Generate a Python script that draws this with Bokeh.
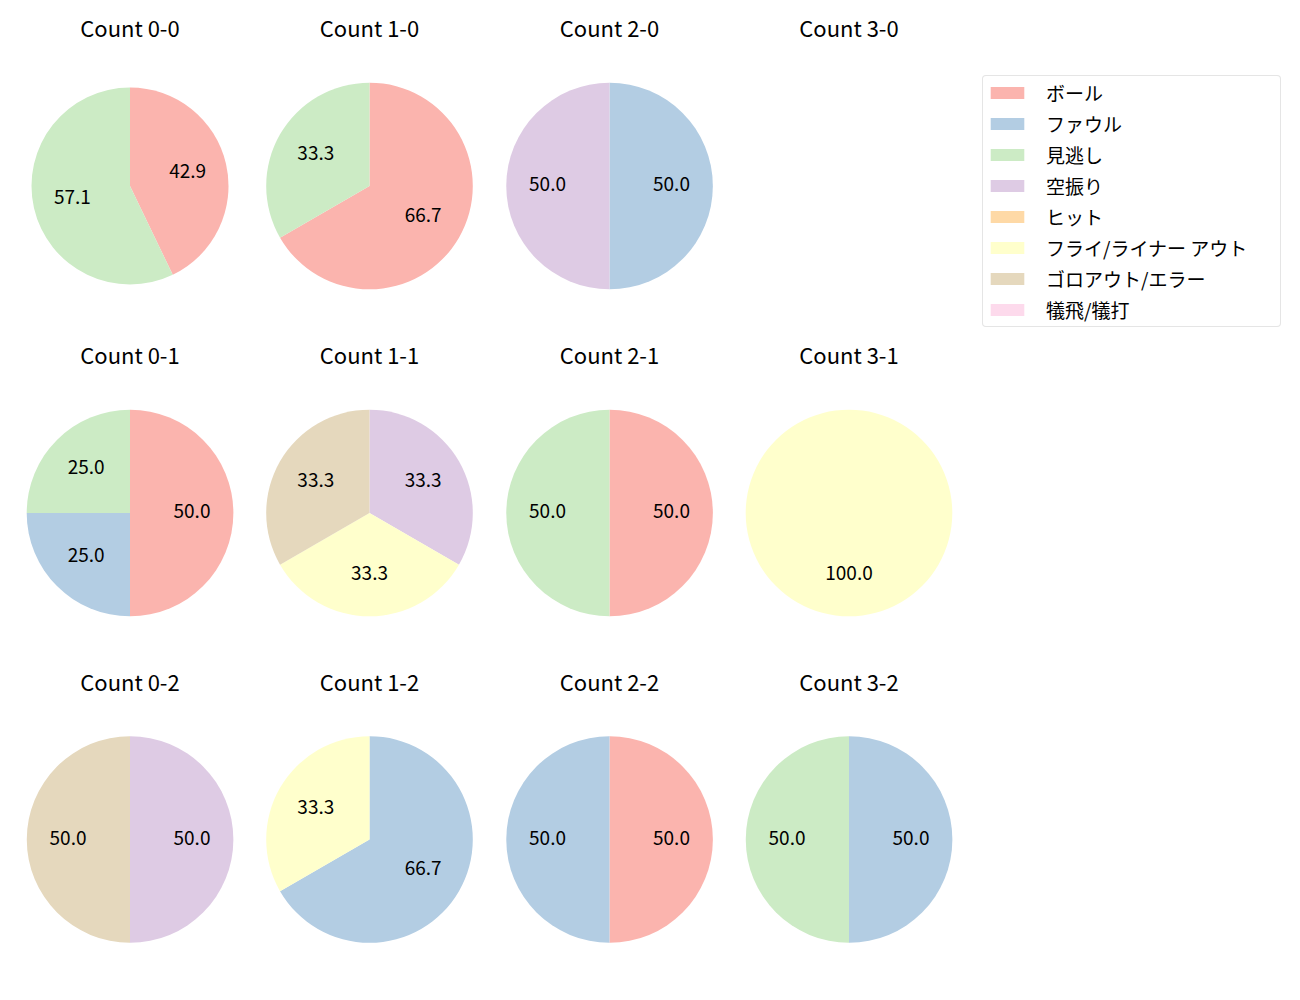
import math
from bokeh.plotting import figure
from bokeh.models import Range1d, Legend, LegendItem, ColumnDataSource
from bokeh.core.properties import value
from bokeh.embed import file_html
from bokeh.resources import INLINE

# ---- data ----
count_names = ["0-0", "1-0", "2-0", "3-0",
               "0-1", "1-1", "2-1", "3-1",
               "0-2", "1-2", "2-2", "3-2"]
categories = ["ボール", "ファウル", "見逃し", "空振り", "ヒット",
              "フライ/ライナー アウト", "ゴロアウト/エラー", "犠飛/犠打"]
ball     = [3, 2, 0, 0, 2, 0, 1, 0, 0, 0, 1, 0]
foul     = [0, 0, 1, 0, 1, 0, 0, 0, 0, 2, 1, 1]
called   = [4, 1, 0, 0, 1, 0, 1, 0, 0, 0, 0, 1]
swinging = [0, 0, 1, 0, 0, 1, 0, 0, 1, 0, 0, 0]
hit      = [0, 0, 0, 0, 0, 0, 0, 0, 0, 0, 0, 0]
fly      = [0, 0, 0, 0, 0, 1, 0, 1, 0, 1, 0, 0]
grounder = [0, 0, 0, 0, 0, 1, 0, 0, 1, 0, 0, 0]
sac      = [0, 0, 0, 0, 0, 0, 0, 0, 0, 0, 0, 0]
series = [ball, foul, called, swinging, hit, fly, grounder, sac]
colors = ["#fbb4ae", "#b3cde3", "#ccebc5", "#decbe4", "#fed9a6",
          "#ffffcc", "#e5d8bd", "#fddaec"]

# ---- layout (pixels, top-down) ----
W, H = 1300, 1000
col_x = [129.5, 369, 609, 848.5]
row_y = [185.5, 512.5, 839]
R = 103.3
radii = [98.5] + [R] * 11
FONT = "Noto Sans CJK JP"
NAN = float("nan")

p = figure(width=W, height=H, x_range=Range1d(0, W), y_range=Range1d(0, H),
           output_backend="svg", toolbar_location=None, min_border=0)
p.axis.visible = False
p.grid.visible = False
p.outline_line_color = None
p.background_fill_color = "white"
p.border_fill_color = "white"

wedge_data = {k: dict(x=[], y=[], r=[], s=[], e=[]) for k in range(len(categories))}
lab = dict(x=[], y=[], t=[])
tit = dict(x=[], y=[], t=[])

for i, name in enumerate(count_names):
    cx = col_x[i % 4]
    cy = H - row_y[i // 4]
    r = radii[i]
    tit["x"].append(cx)
    tit["y"].append(H - (row_y[i // 4] - 157))
    tit["t"].append("Count " + name)
    vals = [s[i] for s in series]
    total = sum(vals)
    if total == 0:
        continue
    cum = 0.0
    for k, v in enumerate(vals):
        if v == 0:
            continue
        f0 = cum / total
        f1 = (cum + v) / total
        cum += v
        start = math.pi / 2 - 2 * math.pi * f1
        end = math.pi / 2 - 2 * math.pi * f0
        if f1 - f0 >= 0.9999:
            end -= 1e-5
        d = wedge_data[k]
        d["x"].append(cx); d["y"].append(cy); d["r"].append(r)
        d["s"].append(start); d["e"].append(end)
        mid = math.pi / 2 - 2 * math.pi * (f0 + f1) / 2
        lab["x"].append(cx + 0.6 * r * math.cos(mid))
        lab["y"].append(cy + 0.6 * r * math.sin(mid))
        lab["t"].append("%.1f" % (100.0 * v / total))

items = []
for k, cat in enumerate(categories):
    d = wedge_data[k]
    if not d["x"]:
        # category without any wedge: keep a non-drawn row so the legend swatch shows
        d = dict(x=[NAN], y=[NAN], r=[NAN], s=[NAN], e=[NAN])
    rr = p.wedge(x="x", y="y", radius="r", start_angle="s", end_angle="e",
                 source=ColumnDataSource(d), fill_color=colors[k], line_color=None)
    items.append(LegendItem(label=cat, renderers=[rr]))

p.text(x="x", y="y", text="t", source=ColumnDataSource(lab),
       text_font=value(FONT), text_font_size="19px", text_color="black",
       text_align="center", text_baseline="middle", y_offset=-2)
p.text(x="x", y="y", text="t", source=ColumnDataSource(tit),
       text_font=value(FONT), text_font_size="22px", text_color="black",
       text_align="center", text_baseline="middle", y_offset=-2)

legend = Legend(items=items, location=(982, H - 327))
legend.label_text_font = FONT
legend.label_text_font_size = "19px"
legend.label_text_color = "black"
legend.glyph_width = 42
legend.glyph_height = 15
legend.label_height = 21
legend.label_width = 231
legend.label_standoff = 18
legend.spacing = 4
legend.padding = 3
legend.margin = 0
legend.border_line_color = "#cccccc"
legend.border_line_width = 1
legend.background_fill_alpha = 1.0
try:
    legend.border_radius = 4
except Exception:
    pass
p.add_layout(legend)

open("out.html", "w").write(file_html(p, INLINE))
